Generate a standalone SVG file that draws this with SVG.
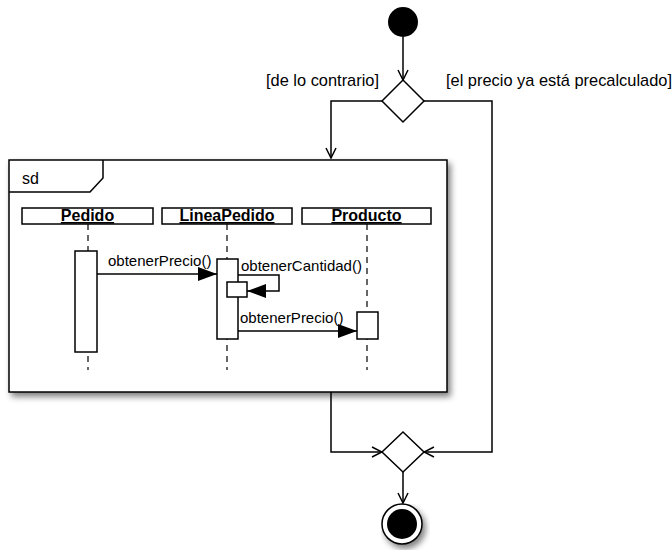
<svg xmlns="http://www.w3.org/2000/svg" width="672" height="550" viewBox="0 0 672 550">
<defs>
<style>
.ln{fill:none;stroke:#000;stroke-width:1.5}
.bx{fill:#fff;stroke:#000;stroke-width:1.5}
.ll{fill:none;stroke:#000;stroke-width:1.2;stroke-dasharray:6,5}
.t{font-family:"Liberation Sans",Arial,sans-serif;font-size:15px;fill:#000}
.g{font-family:"Liberation Sans",Arial,sans-serif;font-size:16.4px;fill:#000}
.s{font-family:"Liberation Sans",Arial,sans-serif;font-size:16px;fill:#000}
.h{font-family:"Liberation Sans",Arial,sans-serif;font-size:16px;font-weight:bold;text-decoration:underline;fill:#000}
</style>
<marker id="open" markerWidth="12" markerHeight="12" refX="11" refY="6" orient="auto" markerUnits="userSpaceOnUse">
<path d="M1,1 L11,6 L1,11" fill="none" stroke="#000" stroke-width="1.5"/>
</marker>
<marker id="fill" markerWidth="20" markerHeight="14" refX="19" refY="7" orient="auto" markerUnits="userSpaceOnUse">
<path d="M0,0 L19,7 L0,14 Z" fill="#000"/>
</marker>
<filter id="sh" x="-10%" y="-10%" width="130%" height="130%">
<feGaussianBlur in="SourceAlpha" stdDeviation="3"/>
<feOffset dx="3" dy="4" result="b"/>
<feComponentTransfer><feFuncA type="linear" slope="0.5"/></feComponentTransfer>
<feMerge><feMergeNode/><feMergeNode in="SourceGraphic"/></feMerge>
</filter>
</defs>
<rect width="672" height="550" fill="#fff"/>

<g id="connectors">
<line class="ln" x1="403" y1="37" x2="403" y2="80" marker-end="url(#open)"/>
<polyline class="ln" points="382,101 331,101 331,158" marker-end="url(#open)"/>
<polyline class="ln" points="423,101 492,101 492,452 424,452" marker-end="url(#open)"/>
<polyline class="ln" points="331,392 331,452 382,452" marker-end="url(#open)"/>
<line class="ln" x1="403" y1="472" x2="403" y2="503" marker-end="url(#open)"/>
<text class="g" x="266" y="86">[de lo contrario]</text>
<text class="g" x="446" y="86">[el precio ya está precalculado]</text>
</g>

<g id="start"><circle cx="403" cy="22" r="15" fill="#000"/></g>
<g id="decision"><polygon class="bx" points="403,80 424,101 403,122 382,101"/></g>
<g id="merge"><polygon class="bx" points="403,432 424,452 403,472 382,452"/></g>
<g id="end" filter="url(#sh)"><circle cx="402" cy="524" r="20" fill="#fff" stroke="#000" stroke-width="1.5"/><circle cx="402" cy="524" r="15" fill="#000"/></g>

<g id="sd-frame">
<rect x="9" y="160" width="438" height="232" fill="#fff" stroke="#000" stroke-width="1.5" filter="url(#sh)"/>
<path class="ln" d="M9,192 L90,192 L103,178 L103,160"/>
<text class="s" x="22" y="184">sd</text>

<g id="pedido">
<line class="ll" x1="88" y1="224" x2="88" y2="370"/>
<rect class="bx" x="22" y="208" width="131" height="16"/>
<text class="h" x="87.5" y="221" text-anchor="middle">Pedido</text>
<rect class="bx" x="75" y="251" width="22" height="101"/>
</g>
<g id="lineapedido">
<line class="ll" x1="227" y1="224" x2="227" y2="370"/>
<rect class="bx" x="162" y="208" width="130" height="16"/>
<text class="h" x="227" y="221" text-anchor="middle">LineaPedido</text>
<rect class="bx" x="217" y="259" width="21" height="80"/>
<rect class="bx" x="227" y="282" width="20" height="15"/>
</g>
<g id="producto">
<line class="ll" x1="367" y1="224" x2="367" y2="370"/>
<rect class="bx" x="302" y="208" width="129" height="16"/>
<text class="h" x="366.5" y="221" text-anchor="middle">Producto</text>
<rect class="bx" x="357" y="312" width="21" height="27"/>
</g>

<g id="messages">
<line class="ln" x1="97" y1="274" x2="217" y2="274" marker-end="url(#fill)"/>
<text class="t" x="108" y="266">obtenerPrecio()</text>
<polyline class="ln" points="238,275 279,275 279,291 247,291" marker-end="url(#fill)"/>
<text class="t" x="241" y="271">obtenerCantidad()</text>
<line class="ln" x1="238" y1="331" x2="357" y2="331" marker-end="url(#fill)"/>
<text class="t" x="240" y="323">obtenerPrecio()</text>
</g>
</g>
</svg>
